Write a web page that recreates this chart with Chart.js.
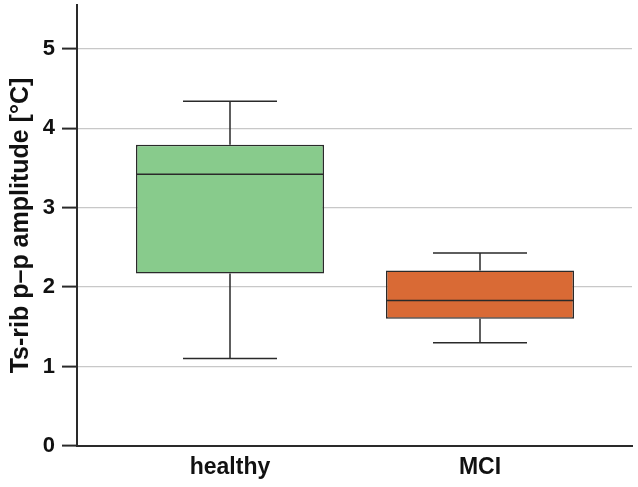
<!DOCTYPE html>
<html>
<head>
<meta charset="utf-8">
<script src="https://cdn.jsdelivr.net/npm/chart.js@4"></script>
<style>
  html, body { margin:0; padding:0; background:#fff; }
  #wrap { width:638px; height:487px; }
</style>
</head>
<body>
<div id="wrap"><canvas id="c"></canvas></div>
<script>
// Box plot data
const groups    = ['healthy', 'MCI'];
const positions = [1, 2];
const mins      = [1.10, 1.30];
const q1s       = [2.17, 1.60];
const medians   = [3.42, 1.83];
const q3s       = [3.79, 2.21];
const maxs      = [4.34, 2.43];
const fills     = ['#88cb8c', '#d96a35'];
const yTicks    = [0, 1, 2, 3, 4, 5];

const INK = '#2a2a2a';
const FONT = "'Liberation Sans', Arial, sans-serif";

// whiskers + median drawn on top of the floating bars
const boxParts = {
  id:'boxParts',
  afterDatasetsDraw(chart) {
    const { ctx, scales:{x, y} } = chart;
    ctx.save();
    ctx.strokeStyle = INK;
    ctx.lineWidth = 1.5;
    positions.forEach((p, i) => {
      const cx = x.getPixelForValue(p);
      const capL = x.getPixelForValue(p - 0.188), capR = x.getPixelForValue(p + 0.188);
      const boxL = x.getPixelForValue(p - 0.376), boxR = x.getPixelForValue(p + 0.376);
      ctx.beginPath();
      ctx.moveTo(cx, y.getPixelForValue(q3s[i])); ctx.lineTo(cx, y.getPixelForValue(maxs[i]));
      ctx.moveTo(capL, y.getPixelForValue(maxs[i])); ctx.lineTo(capR, y.getPixelForValue(maxs[i]));
      ctx.moveTo(cx, y.getPixelForValue(q1s[i])); ctx.lineTo(cx, y.getPixelForValue(mins[i]));
      ctx.moveTo(capL, y.getPixelForValue(mins[i])); ctx.lineTo(capR, y.getPixelForValue(mins[i]));
      ctx.moveTo(boxL, y.getPixelForValue(medians[i])); ctx.lineTo(boxR, y.getPixelForValue(medians[i]));
      ctx.stroke();
    });
    ctx.restore();
  }
};

new Chart(document.getElementById('c'), {
  type:'bar',
  data:{ datasets:[{
    data: positions.map((p, i) => ({ x:p, y:[q1s[i], q3s[i]] })),
    backgroundColor: fills, borderColor: INK, borderWidth:1.5, borderSkipped:false,
    categoryPercentage:1, barPercentage:0.752
  }]},
  options:{
    responsive:true, maintainAspectRatio:false, animation:false,
    layout:{ padding:{ top:5, right:6, left:0, bottom:0 } },
    plugins:{ legend:{display:false}, tooltip:{enabled:false} },
    scales:{
      x:{
        type:'linear', min:0.388, max:2.608, offset:false,
        afterBuildTicks: s => { s.ticks = positions.map(v => ({ value:v })); },
        afterFit: s => { s.height = 41; s.paddingLeft = 0; s.paddingRight = 0; },
        grid:{ display:false, drawTicks:false },
        border:{ color:INK, width:2 },
        ticks:{ color:'#111', padding:8, font:{ family:FONT, size:23, weight:'bold' },
                callback: v => groups[positions.indexOf(v)] }
      },
      y:{
        min:0, max:5.55,
        afterBuildTicks: s => { s.ticks = yTicks.map(v => ({ value:v })); },
        afterFit: s => { s.width = 77; s.paddingTop = 0; s.paddingBottom = 0; },
        grid:{ color:'#c8c8c8', lineWidth:1.2, tickColor:INK, tickWidth:2, tickLength:15 },
        border:{ color:INK, width:2 },
        ticks:{ color:'#111', padding:7, font:{ family:FONT, size:22, weight:'bold' } },
        title:{ display:true, text:'Ts-rib p–p amplitude [°C]', color:'#111',
                padding:{ top:6, bottom:0 }, font:{ family:FONT, size:25, weight:'bold' } }
      }
    }
  },
  plugins:[boxParts]
});
</script>
</body>
</html>
